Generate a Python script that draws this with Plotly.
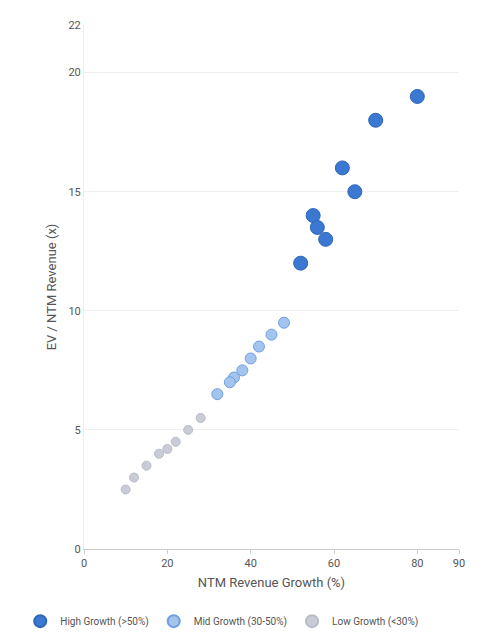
import plotly.graph_objects as go

high_x = [80, 70, 62, 65, 55, 56, 58, 52]
high_y = [19, 18, 16, 15, 14, 13.5, 13, 12]
mid_x = [48, 45, 42, 40, 38, 36, 35, 32]
mid_y = [9.5, 9, 8.5, 8, 7.5, 7.2, 7, 6.5]
low_x = [28, 25, 22, 20, 18, 15, 12, 10]
low_y = [5.5, 5, 4.5, 4.2, 4, 3.5, 3, 2.5]

x_ticks = [0, 20, 40, 60, 80, 90]
y_ticks = [0, 5, 10, 15, 20, 22]

fig = go.Figure()
fig.add_trace(go.Scatter(x=high_x, y=high_y, mode='markers', name='High Growth (>50%)',
                         marker=dict(size=14, color='#3b78d1', line=dict(color='#2f66b8', width=1))))
fig.add_trace(go.Scatter(x=mid_x, y=mid_y, mode='markers', name='Mid Growth (30-50%)',
                         marker=dict(size=11, color='#a3c4ec', line=dict(color='#6f9fe0', width=1))))
fig.add_trace(go.Scatter(x=low_x, y=low_y, mode='markers', name='Low Growth (<30%)',
                         marker=dict(size=9, color='#c9ccd6', line=dict(color='#b8bcc8', width=1))))

fig.update_layout(
    width=488, height=640,
    paper_bgcolor='white', plot_bgcolor='white',
    font=dict(family='Roboto, Arial', size=11, color='#555'),
    margin=dict(l=60, r=37, t=17, b=99),
    legend=dict(orientation='h', x=-0.17, xanchor='left', y=-0.11, yanchor='top',
                font=dict(size=10), itemsizing='constant', itemwidth=30, tracegroupgap=0),
    xaxis=dict(title=dict(text='NTM Revenue Growth (%)', standoff=8), range=[0, 90],
               tickvals=x_ticks, showgrid=False, showline=True, linecolor='#ccc',
               zeroline=False, ticks='outside', tickcolor='#ccc', ticklen=4),
    yaxis=dict(title=dict(text='EV / NTM Revenue (x)', standoff=8), range=[0, 22],
               tickvals=y_ticks, showgrid=True, gridcolor='#eeeeee', showline=True,
               linecolor='#eeeeee', zeroline=False),
)
fig.write_html("out.html")
